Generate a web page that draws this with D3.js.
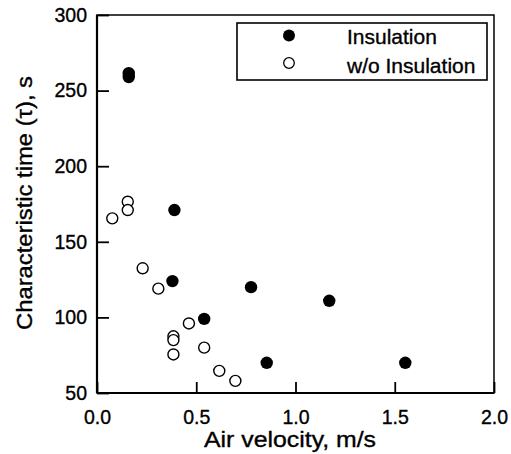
<!DOCTYPE html>
<html><head><meta charset="utf-8">
<script src="https://cdn.jsdelivr.net/npm/d3@7"></script>
<style>body{margin:0;background:#fff;} text{font-family:"Liberation Sans",Arial,sans-serif;fill:#000;stroke:#000;stroke-width:0.35px;}</style>
</head><body><svg id="c" width="511" height="454"></svg>
<script>
const insX = [0.16, 0.16, 0.39, 0.38, 0.54, 0.776, 0.855, 1.17, 1.553];
const insY = [261.5, 259, 171, 124, 99, 120, 70, 111, 70];
const woX = [0.077, 0.155, 0.155, 0.23, 0.309, 0.385, 0.385, 0.385, 0.463, 0.54, 0.616, 0.697];
const woY = [165.5, 176.5, 171, 132.5, 119, 87.5, 85, 75.5, 96, 80, 64.6, 58];
const xTicks = [0.0, 0.5, 1.0, 1.5, 2.0];
const yTicks = [50, 100, 150, 200, 250, 300];
const legendLabels = ["Insulation", "w/o Insulation"];

const svg = d3.select("#c");
const L = 97, R = 494, T = 15, B = 393;
const x = d3.scaleLinear().domain([0, 2]).range([L, R]);
const y = d3.scaleLinear().domain([50, 300]).range([B, T]);

// frame
svg.append("rect").attr("x", L).attr("y", T).attr("width", R - L).attr("height", B - T)
  .attr("fill", "none").attr("stroke", "#000").attr("stroke-width", 1.5);
svg.append("line").attr("x1", L).attr("x2", L).attr("y1", T).attr("y2", B).attr("stroke", "#000").attr("stroke-width", 2.2);
svg.append("line").attr("x1", L).attr("x2", R).attr("y1", B).attr("y2", B).attr("stroke", "#000").attr("stroke-width", 2.2);

const xa = svg.append("g").attr("transform", `translate(0,${B})`)
  .call(d3.axisBottom(x).tickValues(xTicks).tickFormat(d3.format(".1f")).tickSizeInner(-11).tickSizeOuter(0).tickPadding(17));
const ya = svg.append("g").attr("transform", `translate(${L},0)`)
  .call(d3.axisLeft(y).tickValues(yTicks).tickSizeInner(-12).tickSizeOuter(0).tickPadding(10));
[xa, ya].forEach(g => {
  g.select(".domain").remove();
  g.selectAll("line").attr("stroke", "#000").attr("stroke-width", 1.8);
  g.selectAll("text").attr("font-size", 19.5).attr("font-family", "Liberation Sans, Arial, sans-serif").attr("fill", "#000");
});
xa.selectAll("text").attr("dy", "0.71em");

// axis titles
svg.append("text").attr("x", 290).attr("y", 446.5).attr("text-anchor", "middle").attr("font-size", 22)
  .attr("textLength", 172).attr("lengthAdjust", "spacingAndGlyphs").text("Air velocity, m/s");
svg.append("text").attr("transform", "translate(32,203) rotate(-90)").attr("text-anchor", "middle").attr("font-size", 21.5)
  .attr("textLength", 254).attr("lengthAdjust", "spacingAndGlyphs")
  .text("Characteristic time (τ), s");

// points
svg.append("g").selectAll("circle").data(woX.map((v, i) => [v, woY[i]])).join("circle")
  .attr("cx", d => x(d[0])).attr("cy", d => y(d[1])).attr("r", 5.5)
  .attr("fill", "#fff").attr("stroke", "#000").attr("stroke-width", 1.4);
svg.append("g").selectAll("circle").data(insX.map((v, i) => [v, insY[i]])).join("circle")
  .attr("cx", d => x(d[0])).attr("cy", d => y(d[1])).attr("r", 6.2)
  .attr("fill", "#000");

// legend
const lg = svg.append("g");
lg.append("rect").attr("x", 237).attr("y", 23).attr("width", 250).attr("height", 57)
  .attr("fill", "#fff").attr("stroke", "#000").attr("stroke-width", 1.6);
lg.append("circle").attr("cx", 289).attr("cy", 35.5).attr("r", 6).attr("fill", "#000");
lg.append("circle").attr("cx", 289).attr("cy", 63).attr("r", 5.3).attr("fill", "#fff").attr("stroke", "#000").attr("stroke-width", 1.3);
lg.selectAll("text.l").data(legendLabels).join("text").attr("class", "l")
  .attr("x", 347).attr("y", (d, i) => 43.5 + i * 29).attr("font-size", 21).text(d => d);
</script></body></html>
